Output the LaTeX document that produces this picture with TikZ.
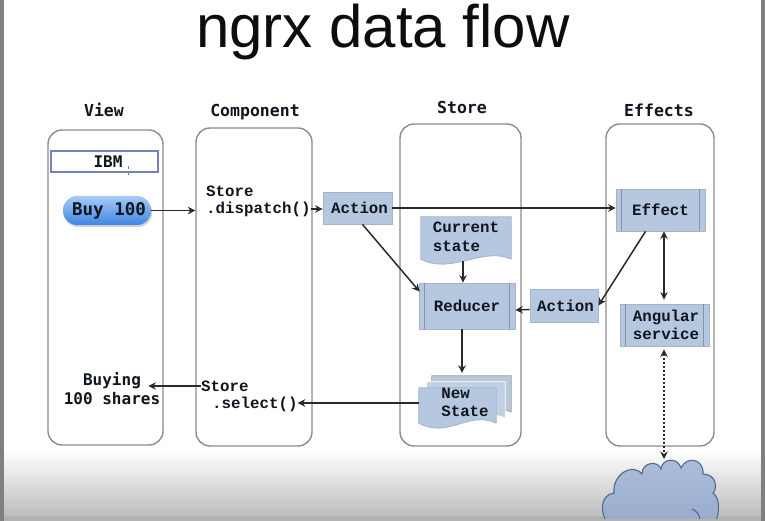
\documentclass[tikz,border=0pt]{standalone}
\usepackage{fontspec}
\setmainfont{Liberation Sans}
\setmonofont{Liberation Mono}
\newfontfamily\headfont{DejaVu Sans Mono}
\usetikzlibrary{arrows.meta,calc}
\definecolor{boxline}{HTML}{8C8C8C}
\definecolor{procfill}{HTML}{B6C8E0}
\definecolor{procedge}{HTML}{A3B4CC}
\definecolor{procbar}{HTML}{7F93AD}
\definecolor{inkc}{HTML}{2A2A2A}
\definecolor{txtc}{HTML}{10161F}
\definecolor{ibmline}{HTML}{7483C0}
\definecolor{buytop}{HTML}{A6CBF5}
\definecolor{buybot}{HTML}{3F85E2}
\definecolor{cloudtop}{HTML}{ACBEDB}
\definecolor{cloudbot}{HTML}{98ABCB}
\definecolor{cloudline}{HTML}{56688F}
\tikzset{
  x=1pt,y=-1pt,
  mono/.style={font=\fontsize{15.8}{18.5}\selectfont\ttfamily\bfseries,text=txtc,inner sep=0pt,align=left},
  heavy/.style={font=\fontsize{16}{19}\selectfont\headfont\bfseries,text=txtc,inner sep=0pt,align=center},
  lane/.style={draw=boxline,line width=1.4pt,rounded corners=14pt,fill=white},
  heading/.style={heavy,anchor=base,font=\fontsize{16.5}{19}\selectfont\headfont\bfseries},
  proc/.style={mono,align=center,fill=procfill,draw=procedge,line width=.8pt},
  sheet/.style={inner sep=0pt},
  conn/.style={draw=inkc,line width=1.5pt,-{Stealth[length=7.5pt,width=7.5pt]}},
  connboth/.style={draw=inkc,line width=1.5pt,{Stealth[length=7.5pt,width=7.5pt]}-{Stealth[length=7.5pt,width=7.5pt]}},
  dotconn/.style={connboth,dash pattern=on 2pt off 2pt},
}
\newcommand{\sidebars}[2]{\draw[procbar,line width=1.1pt] ($(#1.north west)+(#2,0)$) -- ($(#1.south west)+(#2,0)$) ($(#1.north east)+(-#2,0)$) -- ($(#1.south east)+(-#2,0)$);}
\newcommand{\docsheet}[3]{\fill[#2] (#1.north west) -- (#1.north east) -- (#1.south east) .. controls ($(#1.south east)+(-28,-13)$) and ($(#1.south west)+(30,16)$) .. (#1.south west) -- cycle; \draw[#3,line width=.8pt] (#1.south east) -- (#1.north east) -- (#1.north west) -- (#1.south west) .. controls ($(#1.south west)+(30,16)$) and ($(#1.south east)+(-28,-13)$) .. (#1.south east);}
\begin{document}
\begin{tikzpicture}
\useasboundingbox (0,0) rectangle (765,521);
\begin{scope}
\clip (0,0) rectangle (765,521);
\fill[white] (0,0) rectangle (765,521);
\shade[top color=white,bottom color=black!26] (0,450) rectangle (765,516);
\fill[black!30] (0,516) rectangle (765,521);
\fill[black!50] (0,0) rectangle (4,521);
\fill[black!50] (761,0) rectangle (765,521);

\node[font=\fontsize{60}{61}\selectfont,text=black!95,inner sep=0pt] (title) at (383,32) {ngrx data flow};

% lanes
\node[lane,minimum width=115pt,minimum height=315pt] (view) at (105.5,287.5) {};
\node[lane,minimum width=116pt,minimum height=318pt] (comp) at (254,287) {};
\node[lane,minimum width=121pt,minimum height=322pt] (store) at (460.5,285) {};
\node[lane,minimum width=108pt,minimum height=322pt] (effs) at (660,285) {};
\node[heading] (hview) at (104,117) {View};
\node[heading] (hcomp) at (255,117) {Component};
\node[heading] (hstore) at (462,114) {Store};
\node[heading] (heffs) at (659,117) {Effects};

% view
\node[draw=ibmline,line width=1.2pt,fill=white,minimum width=107pt,minimum height=21pt,inner sep=0pt] (ibm) at (104.5,161.5) {};
\node[heavy] (ibmt) at (108,162) {IBM};
\draw[black!50,line width=.5pt,dashed] (122,172) -- (134,172) (128,166) -- (128,178);
\fill[black!18,rounded corners=14pt] (64,198) rectangle (152,227);
\node[heavy,rounded corners=14pt,top color=buytop,bottom color=buybot,minimum width=88pt,minimum height=29pt,font=\fontsize{17.5}{19}\selectfont\headfont\bfseries] (buy) at (107,210.5) {\kern4pt Buy 100};
\node[heavy] (buying) at (112,388.5) {Buying\\100 shares};

% component
\node[mono,anchor=west] (store1) at (206,191) {Store};
\node[mono,anchor=west] (disp) at (206,209) {.dispatch()};
\node[mono,anchor=west] (store2) at (201,386) {Store};
\node[mono,anchor=west] (sel) at (212,404) {.select()};

% store
\node[proc,minimum width=69pt,minimum height=32pt] (act1) at (357.5,208) {\kern4pt Action};
\node[sheet,minimum width=90pt,minimum height=42pt] (cur) at (466,238) {};
\docsheet{cur}{procfill}{procedge}
\node[mono] (curt) at (466,237) {Current\\state};
\node[proc,minimum width=96pt,minimum height=46pt] (red) at (467,306) {Reducer};
\sidebars{red}{6}

\node[sheet,minimum width=79pt,minimum height=36pt] (nsback) at (471.5,394) {};
\docsheet{nsback}{black!12!procfill!70!white}{black!25!procedge!80!white}
\node[sheet,minimum width=78pt,minimum height=36pt] (nsmid) at (466,400) {};
\docsheet{nsmid}{procfill!85!white}{white}
\node[sheet,minimum width=77pt,minimum height=35pt] (nsfront) at (457.5,405.5) {};
\docsheet{nsfront}{procfill}{procedge}
\node[mono] (nst) at (465,402.5) {New\\State};

% effects
\node[proc,minimum width=89pt,minimum height=42pt] (eff) at (660.5,210) {Effect};
\sidebars{eff}{5.5}
\node[proc,minimum width=68pt,minimum height=33pt] (act2) at (564,305.5) {\kern3pt Action};
\node[proc,minimum width=89pt,minimum height=42pt] (ang) at (664.5,325) {\kern3pt Angular\\\kern3pt service};
\sidebars{ang}{5.5}

% cloud
\coordinate (cloudn) at (664,461);
\draw[top color=cloudtop,bottom color=cloudbot,draw=cloudline,line width=1.1pt]
  (607,523) .. controls (600,512) and (600,495) .. (614,493)
  .. controls (612,475) and (632,462) .. (642,474)
  .. controls (642,462) and (658,460) .. (661,469)
  .. controls (662,458) and (678,457) .. (681,468)
  .. controls (686,456) and (704,458) .. (703,474)
  .. controls (716,474) and (718,488) .. (713,493)
  .. controls (720,498) and (720,512) .. (715,523) -- cycle;
\draw[cloudline,line width=1.1pt] (692,509) .. controls (697,511) and (700,515) .. (700,521);
\fill[black!30] (590,519) rectangle (740,521);

% connectors
\draw[conn] (buy.east) -- (buy.east -| comp.west);
\draw[conn] (disp.east) -- (disp.east -| act1.west);
\draw[conn] (act1.east) -- (act1.east -| eff.west);
\draw[conn] ($(act1.south)+(5,0)$) -- ($(red.north west)+(1,9)$);
\draw[conn] ($(cur.south)+(-3,2)$) -- ($(red.north)+(-4,0)$);
\draw[conn] ($(red.south)+(-5,0)$) -- ($(nsback.north)+(-9.5,-3)$);
\draw[conn] ($(eff.south)+(-15,0)$) -- (act2.east);
\draw[conn] ($(act2.west)+(0,4)$) -- ($(red.east)+(0,4)$);
\draw[connboth] ($(eff.south)+(3.5,0)$) -- ($(ang.north)+(-.5,-4)$);
\draw[dotconn] ($(ang.south)+(-.5,3)$) -- ($(cloudn)+(0,-2)$);
\coordinate (selstart) at ($(nsfront.west)+(0,-2.5)$);
\draw[conn] (selstart) -- (selstart -| sel.east);
\coordinate (buyend) at ($(buying.east)+(-12,0)$);
\draw[conn] (store2.west) -- (store2.west -| buyend);
\end{scope}
\end{tikzpicture}
\end{document}
